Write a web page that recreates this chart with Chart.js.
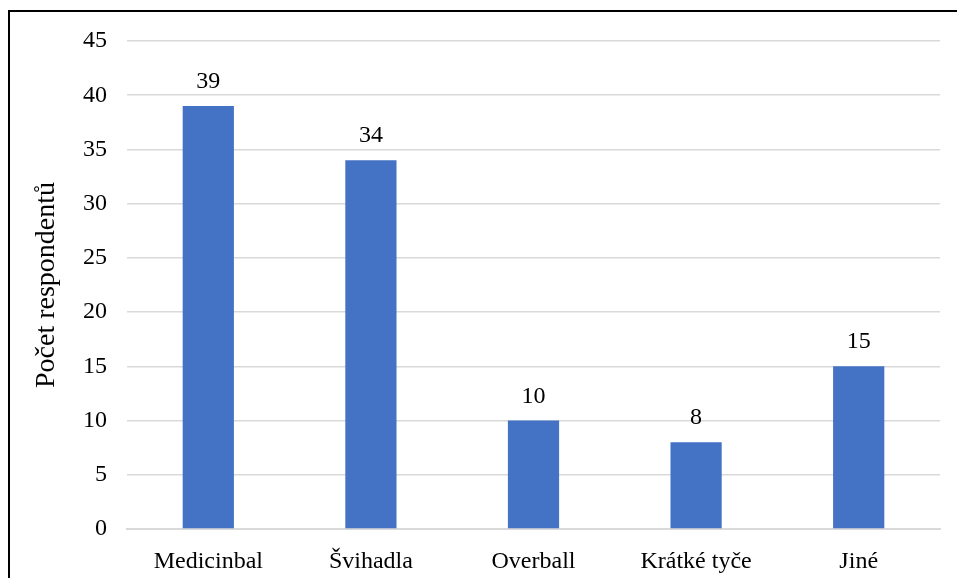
<!DOCTYPE html>
<html>
<head>
<meta charset="utf-8">
<script src="https://cdn.jsdelivr.net/npm/chart.js@4/dist/chart.umd.min.js"></script>
<style>
  html, body { margin: 0; padding: 0; background: #fff; }
  #wrap { position: relative; width: 957px; height: 578px; }
  #frame { position: absolute; left: 8px; top: 10px; right: 0; bottom: 0;
           border-left: 2px solid #000; border-top: 2px solid #000; pointer-events: none; }
  canvas { position: absolute; left: 0; top: 0; }
</style>
</head>
<body>
<div id="wrap">
  <canvas id="chart" width="957" height="578"></canvas>
  <div id="frame"></div>
</div>
<script>
const categories = ['Medicinbal', 'Švihadla', 'Overball', 'Krátké tyče', 'Jiné'];
const counts = [39, 34, 10, 8, 15];
const yTicks = [0, 5, 10, 15, 20, 25, 30, 35, 40, 45];

const FONT = '"Liberation Serif", "Times New Roman", serif';

// value labels printed above each bar
const barValues = {
  id: 'barValues',
  afterDatasetsDraw(chart) {
    const ctx = chart.ctx;
    const meta = chart.getDatasetMeta(0);
    ctx.save();
    ctx.font = '24px ' + FONT;
    ctx.fillStyle = '#000';
    ctx.textAlign = 'center';
    ctx.textBaseline = 'alphabetic';
    meta.data.forEach((bar, i) => {
      ctx.fillText(String(counts[i]), bar.x, bar.y - 18);
    });
    ctx.restore();
  }
};

new Chart(document.getElementById('chart'), {
  type: 'bar',
  data: {
    labels: categories,
    datasets: [{ data: counts, backgroundColor: '#4472C4', barPercentage: 0.63, categoryPercentage: 0.5 }]
  },
  options: {
    responsive: false,
    animation: false,
    layout: { padding: { left: 20, top: 41, right: 17, bottom: 0 } },
    plugins: { legend: { display: false }, tooltip: { enabled: false } },
    scales: {
      x: {
        grid: { display: false },
        border: { color: '#d9d9d9', width: 2 },
        ticks: { color: '#000', font: { family: FONT, size: 24 }, padding: 10 },
        afterFit: s => { s.height = 49; }
      },
      y: {
        min: 0, max: 45,
        afterBuildTicks: s => { s.ticks = yTicks.map(v => ({ value: v })); },
        grid: { color: '#d9d9d9', lineWidth: 1.5, drawTicks: false },
        border: { display: false },
        ticks: { color: '#000', font: { family: FONT, size: 24 }, padding: 20 },
        title: { display: true, text: 'Počet respondentů', color: '#000',
                 font: { family: FONT, size: 28 }, padding: { top: 10, bottom: 0 } },
        afterFit: s => { s.width = 107; }
      }
    }
  },
  plugins: [barValues]
});
</script>
</body>
</html>
